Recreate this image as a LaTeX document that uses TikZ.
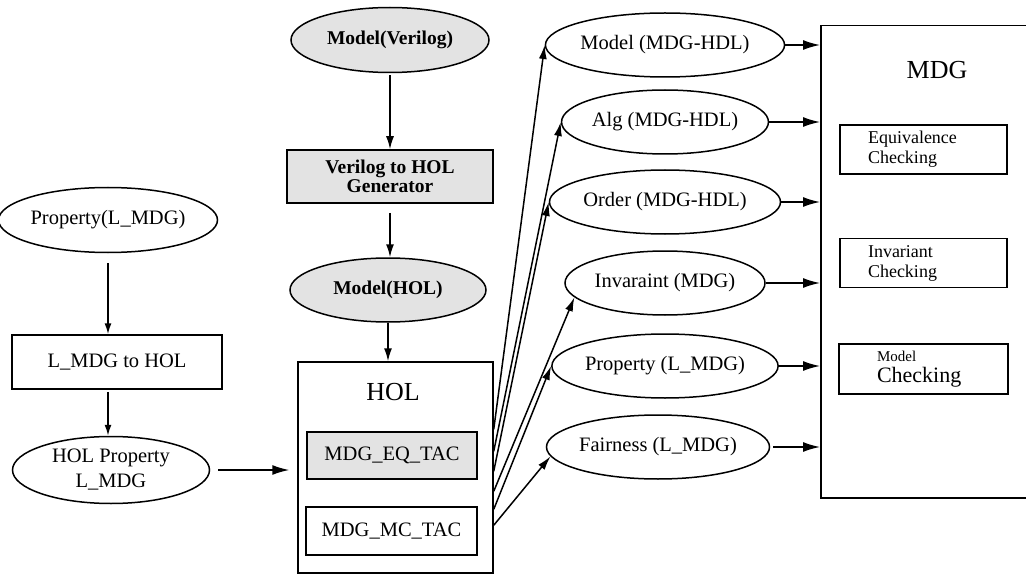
\documentclass[tikz,border=0pt]{standalone}
\usepackage{fontspec}
\setmainfont{Liberation Serif}
\usetikzlibrary{shapes.geometric,arrows.meta,calc}
\begin{document}
\begin{tikzpicture}[x=1pt,y=-1pt,
  every node/.style={font=\fontsize{20.5}{22}\selectfont},
  ln/.style={line width=1.5pt},
  oval/.style={ellipse, draw, ln, inner sep=0pt},
  box/.style={rectangle, draw, ln, inner sep=0pt},
  speckled/.style={fill=black!11},
  shaded text/.style={font=\bfseries\fontsize{19.5}{19}\selectfont},
  varr/.style={ln, -{Latex[length=11pt,width=7pt]}},
  marr/.style={ln, -{Latex[length=13pt,width=8pt]}},
  harr/.style={ln, -{Latex[length=17pt,width=10pt]}},
  fan/.style={ln, -{Latex[length=14pt,width=8pt]}},
  rightoval/.style={oval, minimum width=200, minimum height=64},
  check/.style={box, minimum width=167, minimum height=49, align=left, text width=111,
                font=\fontsize{18}{20}\selectfont},
]
\useasboundingbox (0,0) rectangle (1026,575);
\clip (0,0) rectangle (1026,575);

% left column: property translation
\node[oval, minimum width=197, minimum height=65] (prop) at (108,220) {Property(L\_MDG)};
\node[box, minimum width=210, minimum height=54] (l2h) at (117,362) {L\_MDG to HOL};
\node[oval, minimum width=197, minimum height=67, align=center,
      font=\fontsize{20.5}{25}\selectfont] (hp) at (111,470) {HOL Property\\L\_MDG};

% middle column: model translation and HOL
\node[oval, speckled, shaded text, minimum width=198, minimum height=65] (mv) at (390,40) {Model(Verilog)};
\node[box, speckled, shaded text, align=center, minimum width=206, minimum height=53] (gen) at (390,176.5) {Verilog to HOL\\Generator};
\node[oval, speckled, shaded text, minimum width=196, minimum height=64] (mh) at (388,290) {Model(HOL)};

\node[box, minimum width=195, minimum height=211] (hol) at (395.5,467.5) {};
\node[font=\fontsize{26}{28}\selectfont] (holt) at (393,392) {HOL};
\node[box, speckled, minimum width=170, minimum height=47] (eq) at (392,455.5) {MDG\_EQ\_TAC};
\node[box, minimum width=171, minimum height=48] (mc) at (391.5,531) {MDG\_MC\_TAC};

% inputs handed to MDG
\node[rightoval] (e1) at (665,45)  {Model (MDG-HDL)};
\node[rightoval] (e2) at (665,122) {Alg (MDG-HDL)};
\node[rightoval] (e3) at (665,202) {Order (MDG-HDL)};
\node[rightoval] (e4) at (665,283) {Invaraint (MDG)};
\node[rightoval] (e5) at (665,366) {Property (L\_MDG)};
\node[rightoval] (e6) at (658,447) {Fairness (L\_MDG)};

% MDG tool (open on the right)
\node[box, anchor=north west, minimum width=222, minimum height=472] (mdg) at (820,25) {};
\node[font=\fontsize{26}{28}\selectfont] (mdgt) at (937,70) {MDG};
\node[check] (eqc) at (923.5,149.5) {Equivalence\\Checking};
\node[check] (invc) at (923.5,263) {Invariant\\Checking};
\node[box, line width=2.6pt, minimum width=169, minimum height=50, align=left, text width=93,
      font=\fontsize{22}{21}\selectfont] (mdc) at (923.5,369)
      {{\fontsize{15}{15}\selectfont Model}\\Checking};

% connectors
\draw[varr, shorten <=10pt] (prop.south) -- (prop.south |- l2h.north);
\draw[varr, shorten <=2pt] (l2h.south -| prop.south) -- (hp.north -| prop.south);
\draw[harr, shorten <=8pt, shorten >=8pt] (hp.east) -- (hp.east -| hol.west);

\draw[marr, shorten <=2pt] (mv.south) -- (mv.south |- gen.north);
\draw[marr, shorten <=9pt] (gen.south) -- (gen.south |- mh.north);
\draw[marr] (mh.south) -- (mh.south |- hol.north);

\path (hol.north east) ++(0,68)  coordinate (s1)
      (hol.north east) ++(0,90)  coordinate (s2)
      (hol.north east) ++(0,110) coordinate (s3)
      (hol.north east) ++(0,130) coordinate (s4)
      (hol.north east) ++(0,148) coordinate (s5)
      (hol.north east) ++(0,164) coordinate (s6);
\draw[fan] (s1) -- (e1.west);
\draw[fan] (s2) -- (e2.west);
\draw[fan] (s3) -- (e3.west);
\draw[fan] (s4) -- (e4.189);
\draw[fan] (s5) -- (e5.west);
\draw[fan] (s6) -- (e6.185);

\foreach \e in {e1,e2,e3,e4,e5}
  \draw[harr] (\e.east) -- (\e.east -| mdg.west);
\draw[harr, shorten <=3pt] (e6.east) -- (e6.east -| mdg.west);
\end{tikzpicture}
\end{document}
